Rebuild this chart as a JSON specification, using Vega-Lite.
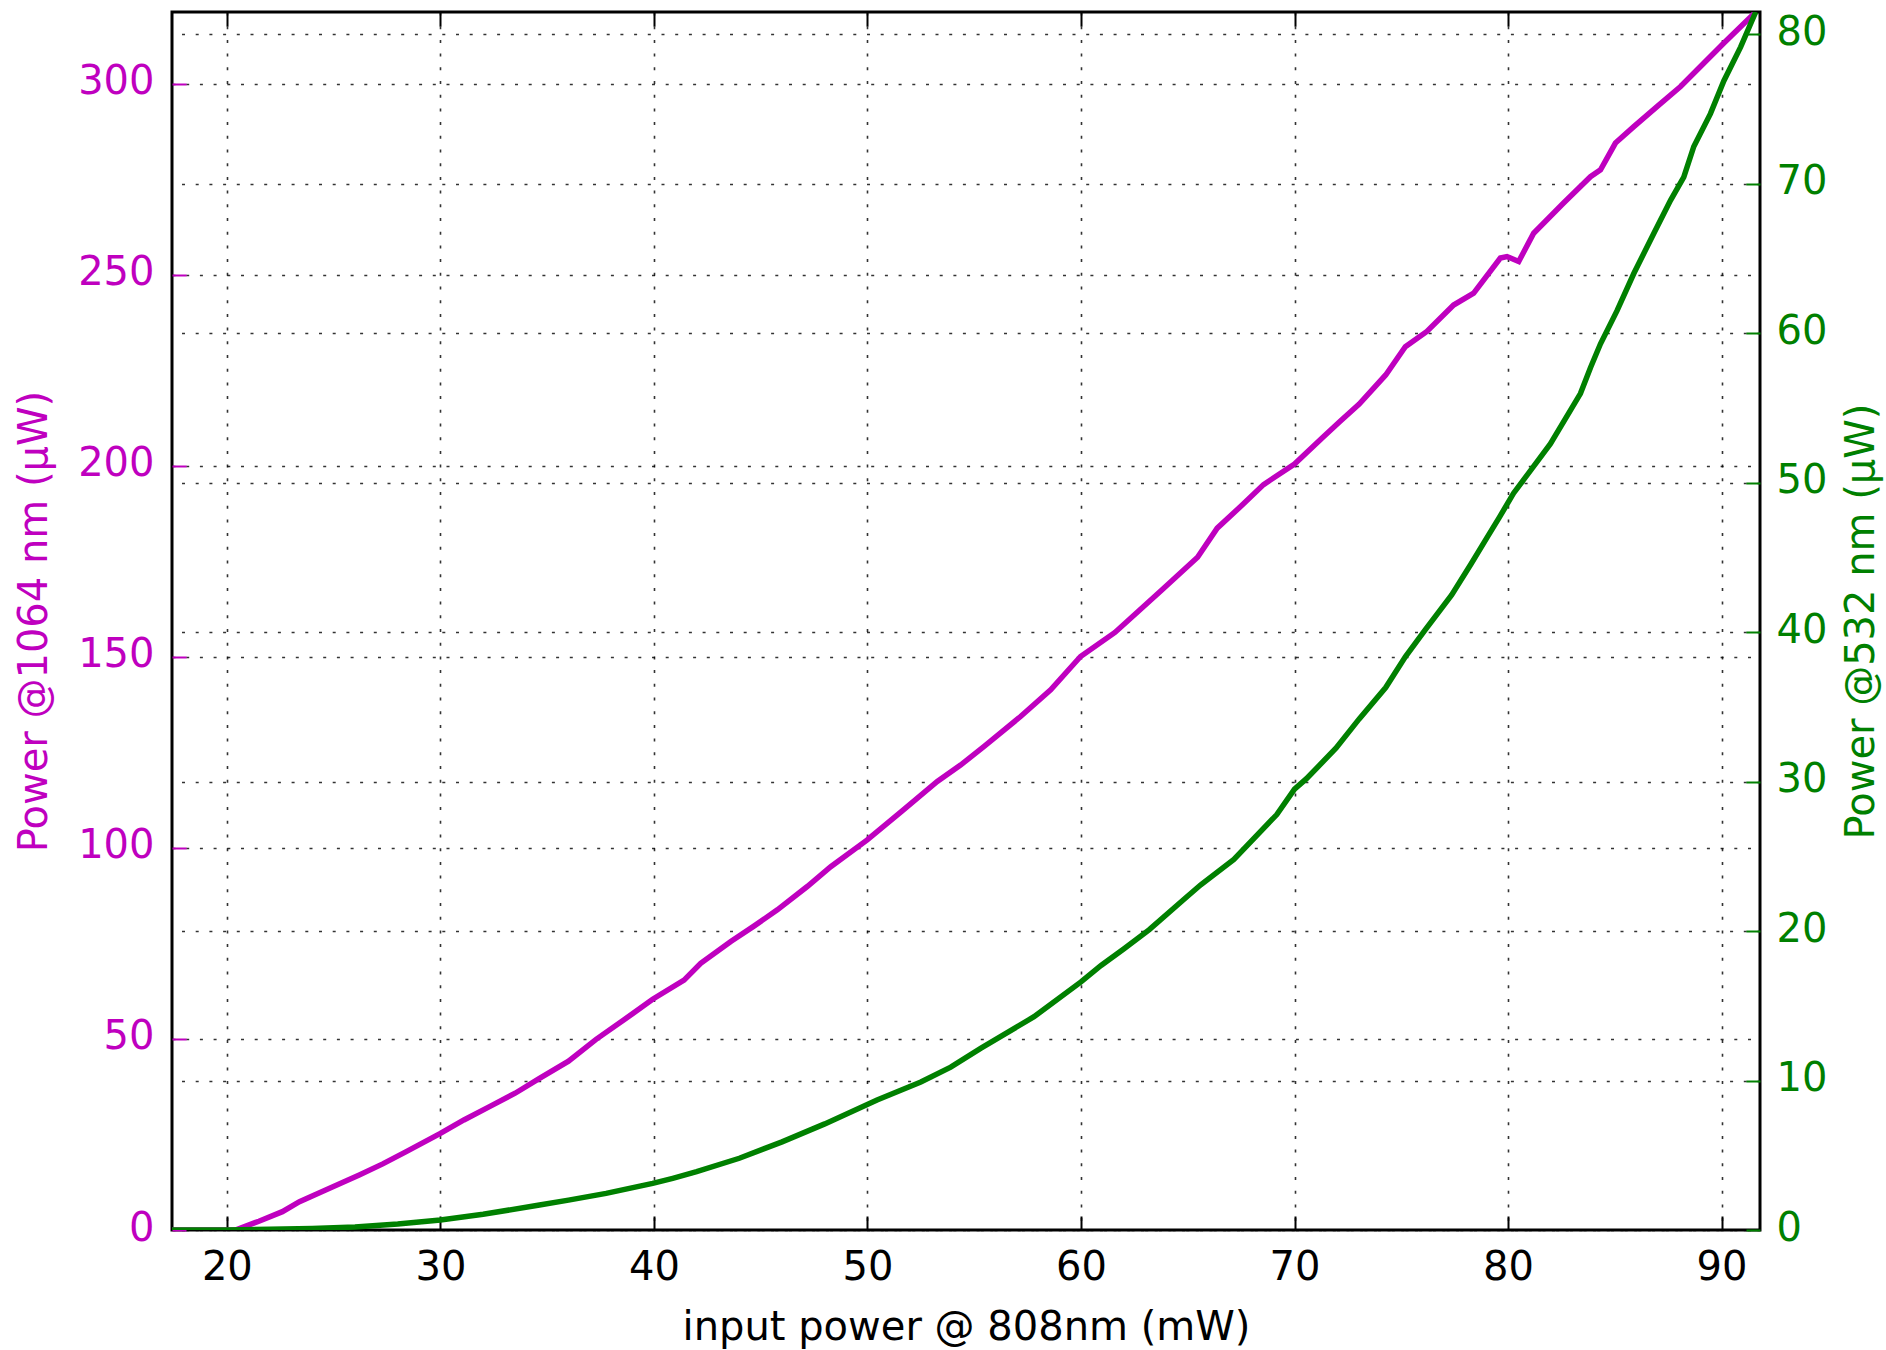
{
  "$schema": "https://vega.github.io/schema/vega-lite/v6.json",
  "width": 1588,
  "height": 1218,
  "autosize": {"type": "none"},
  "padding": {"left": 172, "top": 12, "right": 126, "bottom": 120},
  "background": "white",
  "config": {
    "view": {"stroke": "black", "strokeWidth": 3},
    "axis": {
      "labelFont": "DejaVu Sans",
      "titleFont": "DejaVu Sans",
      "labelFontSize": 40,
      "titleFontSize": 40,
      "titleFontWeight": "normal",
      "domain": false,
      "gridColor": "black",
      "gridDash": [3, 10.7],
      "gridWidth": 1.6,
      "gridOpacity": 0.8,
      "tickWidth": 2,
      "tickSize": -14
    }
  },
  "datasets": {
    "m": [
      {"x": 17.43, "p": 0}, {"x": 18.5, "p": 0}, {"x": 19.5, "p": 0}, {"x": 20.4, "p": 0},
      {"x": 21.5, "p": 2.3}, {"x": 22.6, "p": 4.8}, {"x": 23.4, "p": 7.4}, {"x": 24.6, "p": 10.4},
      {"x": 26.2, "p": 14.4}, {"x": 27.3, "p": 17.3}, {"x": 28.4, "p": 20.5}, {"x": 30, "p": 25.3},
      {"x": 31.1, "p": 28.8}, {"x": 32.3, "p": 32.3}, {"x": 33.5, "p": 35.8}, {"x": 34.64, "p": 39.7},
      {"x": 36, "p": 44.2}, {"x": 37.29, "p": 49.9}, {"x": 38.6, "p": 55}, {"x": 39.94, "p": 60.4},
      {"x": 41.41, "p": 65.4}, {"x": 42.19, "p": 69.8}, {"x": 43.6, "p": 75.5}, {"x": 44.7, "p": 79.6},
      {"x": 45.78, "p": 83.8}, {"x": 47.18, "p": 89.9}, {"x": 48.28, "p": 95.1}, {"x": 49.99, "p": 102.1},
      {"x": 51.6, "p": 109.6}, {"x": 53.27, "p": 117.4}, {"x": 54.36, "p": 121.7}, {"x": 55.45, "p": 126.5},
      {"x": 57.17, "p": 134.4}, {"x": 58.58, "p": 141.4}, {"x": 59.98, "p": 150.1}, {"x": 61.59, "p": 156.4},
      {"x": 62.7, "p": 162}, {"x": 63.76, "p": 167.4}, {"x": 65.46, "p": 176.1}, {"x": 66.38, "p": 183.7},
      {"x": 67.5, "p": 189.5}, {"x": 68.55, "p": 195.1}, {"x": 70, "p": 200.5}, {"x": 71.33, "p": 207.5},
      {"x": 72.1, "p": 211.5}, {"x": 73.03, "p": 216.2}, {"x": 74.27, "p": 223.8}, {"x": 75.19, "p": 231.2},
      {"x": 76.2, "p": 235.2}, {"x": 77.45, "p": 242.1}, {"x": 78.39, "p": 245.2}, {"x": 79.64, "p": 254.4},
      {"x": 79.95, "p": 254.8}, {"x": 80.5, "p": 253.5}, {"x": 81.2, "p": 260.9}, {"x": 82.6, "p": 268.8},
      {"x": 83.86, "p": 275.7}, {"x": 84.33, "p": 277.5}, {"x": 85.03, "p": 284.5}, {"x": 85.89, "p": 288.8},
      {"x": 86.99, "p": 294.1}, {"x": 88.08, "p": 299.3}, {"x": 88.86, "p": 303.7}, {"x": 90.11, "p": 310.7},
      {"x": 91.6, "p": 318.8}
    ],
    "g": [
      {"x": 17.43, "p": 0}, {"x": 20, "p": 0}, {"x": 22, "p": 0.05}, {"x": 24, "p": 0.1},
      {"x": 26, "p": 0.2}, {"x": 28, "p": 0.4}, {"x": 30, "p": 0.67}, {"x": 32, "p": 1.05},
      {"x": 34.64, "p": 1.67}, {"x": 36, "p": 2.0}, {"x": 37.76, "p": 2.45}, {"x": 39.94, "p": 3.12},
      {"x": 40.88, "p": 3.46}, {"x": 42, "p": 3.9}, {"x": 44, "p": 4.8}, {"x": 46, "p": 5.9},
      {"x": 48, "p": 7.1}, {"x": 50.45, "p": 8.7}, {"x": 52.5, "p": 9.9}, {"x": 53.9, "p": 10.9},
      {"x": 55.3, "p": 12.15}, {"x": 57.8, "p": 14.27}, {"x": 60, "p": 16.6}, {"x": 60.94, "p": 17.7},
      {"x": 62, "p": 18.8}, {"x": 63.2, "p": 20.1}, {"x": 64.84, "p": 22.15}, {"x": 65.61, "p": 23.1},
      {"x": 67.16, "p": 24.8}, {"x": 69.17, "p": 27.8}, {"x": 70, "p": 29.5}, {"x": 70.56, "p": 30.2},
      {"x": 71.95, "p": 32.25}, {"x": 73.03, "p": 34.2}, {"x": 74.27, "p": 36.3}, {"x": 75.19, "p": 38.35},
      {"x": 76.12, "p": 40.15}, {"x": 77.36, "p": 42.5}, {"x": 78.28, "p": 44.6}, {"x": 79.0, "p": 46.3},
      {"x": 79.6, "p": 47.7}, {"x": 80.26, "p": 49.3}, {"x": 81.98, "p": 52.6}, {"x": 83.39, "p": 55.97},
      {"x": 83.86, "p": 57.7}, {"x": 84.33, "p": 59.3}, {"x": 85.1, "p": 61.5}, {"x": 85.89, "p": 64.0},
      {"x": 86.83, "p": 66.7}, {"x": 87.61, "p": 68.9}, {"x": 88.23, "p": 70.45}, {"x": 88.7, "p": 72.5},
      {"x": 89.48, "p": 74.7}, {"x": 90.11, "p": 76.9}, {"x": 90.89, "p": 79.15}, {"x": 91.6, "p": 81.5}
    ]
  },
  "layer": [
    {
      "data": {"name": "m"},
      "mark": {"type": "line", "color": "#bf00bf", "strokeWidth": 5.5, "clip": true},
      "encoding": {
        "x": {
          "field": "x", "type": "quantitative",
          "scale": {"domain": [17.43, 91.8], "nice": false, "zero": false},
          "axis": {
            "orient": "bottom", "values": [20, 30, 40, 50, 60, 70, 80, 90],
            "title": "input power @ 808nm (mW)", "labelColor": "black", "titleColor": "black",
            "tickColor": "black", "grid": true, "labelPadding": 31,
            "titleX": 794, "titleY": 109, "titleBaseline": "alphabetic", "titleAlign": "center"
          }
        },
        "y": {
          "field": "p", "type": "quantitative",
          "scale": {"domain": [0, 318.8], "nice": false},
          "axis": {
            "orient": "left", "values": [0, 50, 100, 150, 200, 250, 300],
            "title": "Power @1064 nm (μW)", "titleColor": "#bf00bf", "labelColor": "#bf00bf",
            "tickColor": "#bf00bf", "grid": true, "labelPadding": 32, "labelOffset": -2,
            "titleX": -126, "titleY": 609, "titleAngle": -90, "titleBaseline": "alphabetic", "titleAlign": "center"
          }
        }
      }
    },
    {
      "data": {"name": "g"},
      "mark": {"type": "line", "color": "#008000", "strokeWidth": 5.5, "clip": true},
      "encoding": {
        "x": {
          "field": "x", "type": "quantitative",
          "scale": {"domain": [17.43, 91.8], "nice": false, "zero": false},
          "axis": {
            "orient": "top", "values": [20, 30, 40, 50, 60, 70, 80, 90],
            "labels": false, "title": null, "grid": false, "tickColor": "black"
          }
        },
        "y": {
          "field": "p", "type": "quantitative",
          "scale": {"domain": [0, 81.5], "nice": false},
          "axis": {
            "orient": "right", "values": [0, 10, 20, 30, 40, 50, 60, 70, 80],
            "title": "Power @532 nm (μW)", "titleColor": "#008000", "labelColor": "#008000",
            "tickColor": "#008000", "grid": true, "labelPadding": 30, "labelOffset": -2,
            "titleX": 113, "titleY": 609, "titleAngle": -90, "titleBaseline": "alphabetic", "titleAlign": "center"
          }
        }
      }
    }
  ],
  "resolve": {"scale": {"y": "independent"}, "axis": {"x": "independent", "y": "independent"}}
}
